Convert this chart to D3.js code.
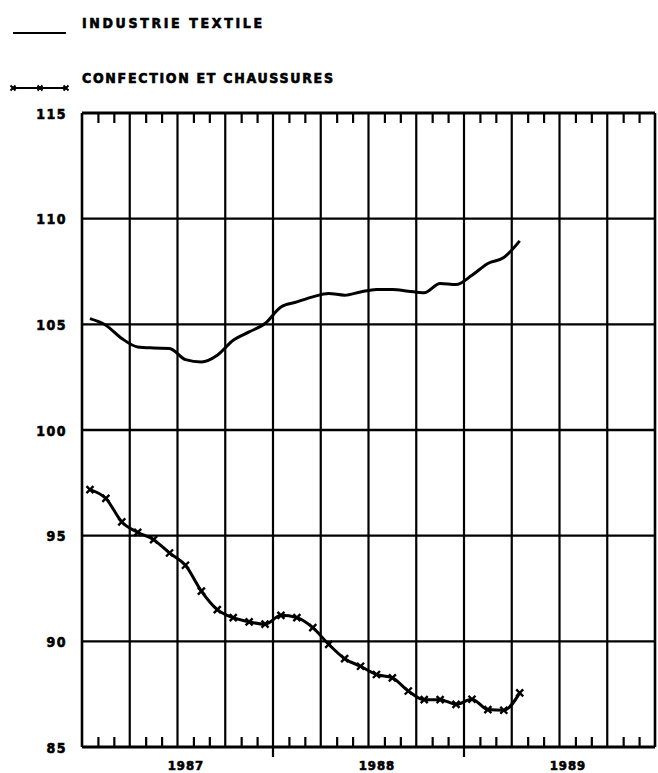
<!DOCTYPE html>
<html><head><meta charset="utf-8">
<script src="https://cdn.jsdelivr.net/npm/d3@7"></script>
<style>
html,body{margin:0;padding:0;background:#fff;}
text{font-family:"DejaVu Sans Condensed","DejaVu Sans",sans-serif;font-weight:bold;fill:#000;stroke:#000;stroke-width:0.6px;}
</style></head>
<body><svg id="c" width="658" height="773"></svg>
<script>
// Monthly index values, Jan 1987 .. Apr 1989
const months = d3.range(28).map(i => `${1987 + Math.floor(i/12)}-${String(i%12+1).padStart(2,"0")}`);
const textile = [105.27,104.96,104.33,103.93,103.88,103.86,103.33,103.22,103.54,104.25,104.64,105.04,
                 105.82,106.06,106.3,106.46,106.38,106.53,106.65,106.65,106.57,106.49,106.93,106.88,
                 107.32,107.88,108.16,108.95];
const confection = [97.18,96.76,95.65,95.16,94.81,94.18,93.6,92.38,91.5,91.12,90.92,90.81,
                    91.23,91.12,90.65,89.86,89.18,88.82,88.43,88.27,87.65,87.24,87.24,87.02,
                    87.26,86.77,86.74,87.56];
const years = ["1987","1988","1989"];
const yTicks = [85,90,95,100,105,110,115];
const seriesNames = ["INDUSTRIE TEXTILE","CONFECTION ET CHAUSSURES"];

const svg = d3.select("#c");
const L = 82, R = 655, T = 113, B = 747;
const x = d3.scaleLinear().domain([0, 36]).range([L, R]);
const y = d3.scaleLinear().domain([85, 115]).range([B, T]);

// horizontal gridlines
svg.append("g").selectAll("line").data(yTicks).join("line")
  .attr("x1", L).attr("x2", R).attr("y1", d => y(d)).attr("y2", d => y(d))
  .attr("stroke", "#000").attr("stroke-width", d => (d===85||d===115) ? 3 : 2.4);

// vertical gridlines (quarters)
const quarters = d3.range(0, 37, 3);
svg.append("g").selectAll("line").data(quarters).join("line")
  .attr("x1", d => x(d)).attr("x2", d => x(d))
  .attr("y1", T).attr("y2", d => (d===12||d===24) ? B + 10 : B)
  .attr("stroke", "#000").attr("stroke-width", d => (d===0||d===36) ? 2.6 : 2.2);

// monthly ticks via axes
const minor = d3.range(1, 36).filter(m => m % 3 !== 0);
const topAx = d3.axisBottom(x).tickValues(minor).tickSize(10).tickFormat("");
svg.append("g").attr("transform", `translate(0,${T})`).call(topAx)
  .call(g => g.select(".domain").remove())
  .call(g => g.selectAll("line").attr("stroke","#000").attr("stroke-width",2.2));
const botAx = d3.axisTop(x).tickValues(minor).tickSize(10).tickFormat("");
svg.append("g").attr("transform", `translate(0,${B})`).call(botAx)
  .call(g => g.select(".domain").remove())
  .call(g => g.selectAll("line").attr("stroke","#000").attr("stroke-width",2.2));

// year labels
const yearAx = d3.axisBottom(x).tickValues([6.5, 18.5, 30.5]).tickSize(0)
  .tickFormat((d,i) => years[i]);
svg.append("g").attr("transform", `translate(0,${B+9})`).call(yearAx)
  .call(g => g.select(".domain").remove())
  .call(g => g.selectAll("text").attr("font-size", 13).attr("dy", "0.85em")
    .style("font-family", '"DejaVu Sans Condensed",sans-serif').style("font-weight","bold")
    .style("letter-spacing","1px").style("stroke","#000").style("stroke-width","0.6px"));

// y labels
const yAx = d3.axisLeft(y).tickValues(yTicks).tickSize(0).tickPadding(0).tickFormat(d3.format("d"));
svg.append("g").attr("transform", `translate(${L-15},0)`).call(yAx)
  .call(g => g.select(".domain").remove())
  .call(g => g.selectAll("text").attr("font-size", 14).attr("dy","0.38em")
    .style("font-family", '"DejaVu Sans Condensed",sans-serif').style("font-weight","bold")
    .style("letter-spacing","1.5px").style("stroke","#000").style("stroke-width","0.6px"));

const xm = i => x(i + 0.5);
const line = d3.line().x((d,i) => xm(i)).y(d => y(d)).curve(d3.curveMonotoneX);

svg.append("path").datum(textile).attr("d", line)
  .attr("fill","none").attr("stroke","#000").attr("stroke-width",3).attr("stroke-linejoin","round");
svg.append("path").datum(confection).attr("d", line)
  .attr("fill","none").attr("stroke","#000").attr("stroke-width",3).attr("stroke-linejoin","round");

const cross = (g, cx, cy, s, w) => {
  g.append("path").attr("d", `M${cx-s},${cy-s}L${cx+s},${cy+s}M${cx-s},${cy+s}L${cx+s},${cy-s}`)
    .attr("stroke","#000").attr("stroke-width",w).attr("fill","none");
};
const mg = svg.append("g");
confection.forEach((v,i) => cross(mg, xm(i), y(v), 3.5, 2.4));

// legend
const lg = svg.append("g");
lg.append("line").attr("x1",13).attr("x2",66).attr("y1",33).attr("y2",33)
  .attr("stroke","#000").attr("stroke-width",2);
lg.append("text").attr("x",82).attr("y",28).attr("font-size",14)
  .attr("textLength",180).attr("lengthAdjust","spacing").text(seriesNames[0]);
lg.append("line").attr("x1",13).attr("x2",66).attr("y1",88).attr("y2",88)
  .attr("stroke","#000").attr("stroke-width",2);
[13,40,66].forEach(px => cross(lg, px, 88, 2.5, 2));
lg.append("text").attr("x",82).attr("y",83).attr("font-size",14)
  .attr("textLength",251).attr("lengthAdjust","spacing").text(seriesNames[1]);
</script></body></html>
